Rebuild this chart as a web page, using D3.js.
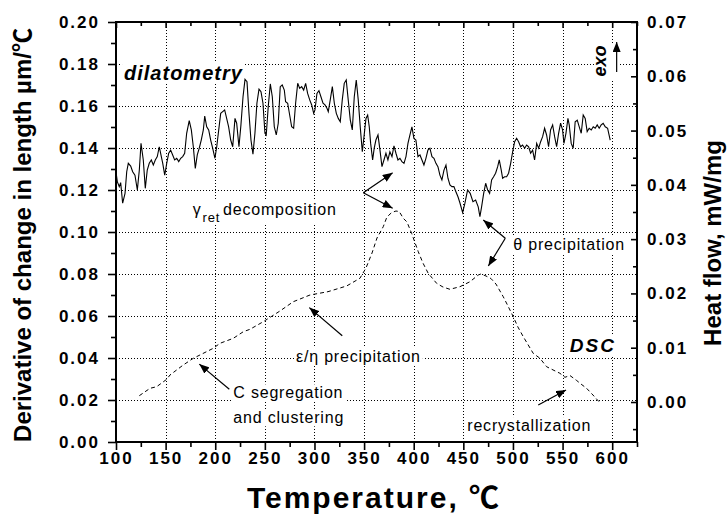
<!DOCTYPE html>
<html>
<head>
<meta charset="utf-8">
<script src="https://cdn.jsdelivr.net/npm/d3@7/dist/d3.min.js"></script>
<style>
body { margin: 0; background: #fff; }
svg { display: block; font-family: "Liberation Sans", Arial, "DejaVu Sans", sans-serif; }
</style>
</head>
<body>
<div id="chart"></div>
<script>
// dilatometry: derivative of change in length (left axis)
var dilT = [100,101.3,103.3,104.7,106.7,109.1,110.8,112.4,114.8,116.8,119.1,121.5,123.5,125.2,127.5,129.5,131.5,133.5,135.6,137.6,
  139.6,141.6,143.6,145.3,147.1,149.1,151.1,153.1,155.1,157.1,159.1,161.2,163.2,165.2,167.2,169.2,171.2,173.8,175.9,177.9,
  179.9,181.9,183.9,185.9,188,189.4,191.4,193.4,195.4,197.4,199.7,201.5,203.5,205.5,207.5,209.5,211.5,213.5,215.6,217.6,
  219.9,221.6,223.9,225.9,228,230,232,234,236,238,240,242,244.1,246.1,248.1,250.1,251.4,253.4,255.5,257.5,
  259.5,261.5,263.5,265.5,267.5,269.6,270.9,273,275,277,279,281,283.1,285.1,287.1,289.1,291.1,293.1,295.2,297.2,
  299.2,300.5,302.5,304.5,306.5,308.6,310.6,312.6,313.9,315.9,318,320,322,324,326,328,330,332,334,336.1,
  338.1,340.1,342.1,344.1,346.1,348.2,349.9,351.9,353.6,355.2,356.6,358.6,360.2,361.9,364,366,368,370,372,374,
  376,378.1,380.1,382.1,384.1,386.1,388.1,390.2,392.2,394.2,396.2,398.2,400.2,402.2,404.3,406.3,408.3,410.3,412.3,414.3,
  416.3,418.4,420.4,422.4,424.4,426.4,428.4,430.5,432.5,434.5,436.5,438.5,440.5,442.5,444.6,446.6,449.3,451.6,454.3,456.9,
  459.7,462.4,465,466.7,468.4,470.5,472.5,474.5,476.5,478.5,480.5,482.5,484.6,486.2,488.2,489.6,491.6,493.6,495.6,497.7,
  499.7,501.7,503.7,505.7,507.7,509.7,511.8,513.8,515.8,517.8,519.8,521.8,523.9,525.9,527.9,529.9,531.9,533.9,535.9,537.9,
  540,542,544,546,548,550,551.4,553.4,555.4,556.7,558.7,560.7,562.7,564.8,566.8,568.8,570.8,572.8,574.8,576.8,
  578.9,580.9,582.9,584.9,586.9,588.9,590.9,593,595.4,598];
var dilV = [0.1287,0.1240,0.1216,0.1235,0.1137,0.1184,0.1287,0.1327,0.1314,0.1287,0.1271,0.1200,0.1295,0.1422,0.1343,0.1208,0.1295,0.1327,0.1343,0.1319,
  0.1343,0.1359,0.1406,0.1367,0.1327,0.1271,0.1327,0.1375,0.1390,0.1367,0.1343,0.1351,0.1335,0.1351,0.1359,0.1375,0.1470,0.1530,0.1486,0.1406,
  0.1303,0.1367,0.1399,0.1438,0.1486,0.1552,0.1501,0.1486,0.1438,0.1399,0.1351,0.1406,0.1486,0.1565,0.1573,0.1581,0.1541,0.1501,0.1438,0.1406,
  0.1541,0.1518,0.1406,0.1510,0.1644,0.1727,0.1716,0.1565,0.1438,0.1371,0.1470,0.1613,0.1680,0.1668,0.1613,0.1470,0.1462,0.1597,0.1705,0.1644,
  0.1501,0.1462,0.1518,0.1692,0.1700,0.1676,0.1620,0.1613,0.1557,0.1501,0.1494,0.1613,0.1708,0.1684,0.1692,0.1676,0.1708,0.1660,0.1629,0.1605,
  0.1565,0.1581,0.1660,0.1673,0.1644,0.1613,0.1605,0.1589,0.1573,0.1629,0.1692,0.1613,0.1565,0.1541,0.1525,0.1629,0.1708,0.1724,0.1629,0.1533,
  0.1486,0.1644,0.1724,0.1629,0.1501,0.1382,0.1454,0.1541,0.1557,0.1501,0.1422,0.1343,0.1399,0.1438,0.1462,0.1390,0.1311,0.1343,0.1375,0.1343,
  0.1382,0.1359,0.1410,0.1375,0.1343,0.1351,0.1335,0.1327,0.1359,0.1422,0.1462,0.1501,0.1446,0.1438,0.1359,0.1367,0.1343,0.1319,0.1351,0.1390,
  0.1399,0.1359,0.1351,0.1327,0.1311,0.1271,0.1248,0.1295,0.1319,0.1256,0.1224,0.1216,0.1216,0.1192,0.1168,0.1138,0.1092,0.1137,0.1200,0.1184,
  0.1144,0.1152,0.1120,0.1073,0.1120,0.1184,0.1232,0.1200,0.1184,0.1248,0.1263,0.1280,0.1311,0.1343,0.1295,0.1256,0.1263,0.1263,0.1280,0.1327,
  0.1382,0.1430,0.1446,0.1430,0.1406,0.1414,0.1399,0.1414,0.1406,0.1375,0.1390,0.1343,0.1422,0.1399,0.1430,0.1454,0.1494,0.1462,0.1406,0.1486,
  0.1510,0.1454,0.1406,0.1470,0.1518,0.1486,0.1422,0.1470,0.1541,0.1510,0.1422,0.1399,0.1525,0.1533,0.1501,0.1470,0.1557,0.1541,0.1478,0.1494,
  0.1486,0.1501,0.1494,0.1510,0.1494,0.1510,0.1518,0.1501,0.1494,0.1438];

// DSC heat flow (right axis)
var dscT = [123.5,134.3,141,151.1,154.4,167.8,177.9,184.6,198,204.8,218.2,228.3,235,248.4,265.2,278.6,295.5,313.6,332.4,345.8,
  351.9,358,363,369.3,373,377.8,382.1,385.4,389.5,393.2,397.9,404.6,409.3,414.6,423.1,429.5,436.5,446.6,456.7,465,
  467.7,472.8,477.8,482.9,490.2,495,500.3,505,510.4,520.4,527.2,533.9,544,547.3,552.4,557.4,564.2,568.5,574.2,580.6,587.6];
var dscV = [0.00116,0.00252,0.00282,0.00418,0.00497,0.00682,0.00805,0.00866,0.00989,0.01081,0.01173,0.01295,0.01339,0.01479,0.01676,0.01847,0.01971,0.02032,0.02137,0.02279,
  0.02468,0.02745,0.03021,0.03229,0.03408,0.03490,0.03518,0.03509,0.03384,0.03316,0.03107,0.02768,0.02560,0.02371,0.02186,0.02118,0.02076,0.02124,0.02216,0.02339,
  0.02358,0.02321,0.02275,0.02173,0.01940,0.01768,0.01571,0.01381,0.01203,0.00897,0.00805,0.00650,0.00558,0.00529,0.00455,0.00488,0.00396,0.00332,0.00252,0.00129,-0.00013];

var xMajor = [100,150,200,250,300,350,400,450,500,550,600];
var xMinor = [125,175,225,275,325,375,425,475,525,575,625];
var yLeftMajor = [0,0.02,0.04,0.06,0.08,0.10,0.12,0.14,0.16,0.18,0.20];
var yLeftMinor = [0.01,0.03,0.05,0.07,0.09,0.11,0.13,0.15,0.17,0.19];
var yRightMajor = [0,0.01,0.02,0.03,0.04,0.05,0.06,0.07];
var yRightMinor = [-0.005,0.005,0.015,0.025,0.035,0.045,0.055,0.065];
var xGrid = [150,200,250,300,350,400,450,500,550,600];
var yGrid = [0.02,0.04,0.06,0.08,0.10,0.12,0.14,0.16,0.18];

var W = 728, H = 516;
var m = {top: 22, right: 91, bottom: 74, left: 116};

var svg = d3.select("#chart").append("svg").attr("width", W).attr("height", H);

var x = d3.scaleLinear().domain([100, 625]).range([m.left, W - m.right]);
var yL = d3.scaleLinear().domain([0, 0.2]).range([H - m.bottom, m.top]);
var yR = d3.scaleLinear().domain([-0.00737, 0.07]).range([H - m.bottom, m.top]);

function px(v) { return Math.round(v) + 0.5; }

// arrow head
svg.append("defs").append("marker")
  .attr("id", "head")
  .attr("viewBox", "0 0 10 8")
  .attr("refX", 10).attr("refY", 4)
  .attr("markerUnits", "userSpaceOnUse")
  .attr("markerWidth", 10).attr("markerHeight", 8)
  .attr("orient", "auto")
  .append("path").attr("d", "M0,0 L10,4 L0,8 Z").attr("fill", "#000");

// grid
var grid = svg.append("g");
grid.selectAll("line.gx").data(xGrid).join("line").attr("class", "gx")
  .attr("x1", d => px(x(d))).attr("x2", d => px(x(d)))
  .attr("y1", yL(0)).attr("y2", yL(0.2));
grid.selectAll("line.gy").data(yGrid).join("line").attr("class", "gy")
  .attr("x1", x(100)).attr("x2", x(625))
  .attr("y1", d => px(yL(d))).attr("y2", d => px(yL(d)));
grid.selectAll("line").attr("stroke", "#000").attr("stroke-width", 1).attr("stroke-dasharray", "1,2");

var boxes = svg.append("g");
var curves = svg.append("g");
var notes = svg.append("g");

// curves
var lineL = d3.line().x(d => x(d[0])).y(d => yL(d[1]));
var lineR = d3.line().x(d => x(d[0])).y(d => yR(d[1]));

curves.append("path")
  .attr("d", lineL(d3.zip(dilT, dilV)))
  .attr("fill", "none").attr("stroke", "#000").attr("stroke-width", 1.1);

curves.append("path")
  .attr("d", lineR(d3.zip(dscT, dscV)))
  .attr("fill", "none").attr("stroke", "#000").attr("stroke-width", 1)
  .attr("stroke-dasharray", "4,3");

// text labels with white boxes behind them
function label(t, v, str, size, weight, style, ls, anchor) {
  var el = notes.append("text")
    .attr("x", x(t)).attr("y", yL(v))
    .attr("font-size", size).attr("font-weight", weight || "normal")
    .attr("font-style", style || "normal")
    .attr("letter-spacing", ls || 0)
    .attr("text-anchor", anchor || "start")
    .attr("fill", "#000")
    .text(str);
  return el;
}
function backBox(el) {
  var b = el.node().getBBox();
  boxes.append("rect").attr("x", b.x - 2).attr("y", b.y).attr("width", b.width + 4).attr("height", b.height)
    .attr("fill", "#fff");
}
function arrow(t1, v1, t2, v2) {
  notes.append("line")
    .attr("x1", x(t1)).attr("y1", yL(v1)).attr("x2", x(t2)).attr("y2", yL(v2))
    .attr("stroke", "#000").attr("stroke-width", 1.2).attr("marker-end", "url(#head)");
}

backBox(label(108.1, 0.1724, "dilatometry", 20, "bold", "italic", 1));

var g1 = label(177.3, 0.1081, "", 16, "normal", "normal", 0.8);
g1.append("tspan").text("γ");
g1.append("tspan").attr("font-size", 13).attr("dy", 7).attr("dx", 1).text("ret");
g1.append("tspan").attr("dy", -7).attr("dx", 3).text("decomposition");
backBox(g1);
arrow(349.2, 0.1187, 378.8, 0.1282);
arrow(349.2, 0.1187, 378.8, 0.1113);

backBox(label(500.4, 0.0914, "θ precipitation", 16, "normal", "normal", 0.8));
arrow(492.3, 0.0970, 470.1, 0.1057);
arrow(492.3, 0.0970, 475.2, 0.0838);

backBox(label(281.4, 0.0381, "ε/η precipitation", 16, "normal", "normal", 0.8));
arrow(328.0, 0.0506, 294.8, 0.0640);

backBox(label(218.2, 0.0208, "C segregation", 16, "normal", "normal", 0.8));
backBox(label(218.2, 0.0089, "and clustering", 16, "normal", "normal", 0.8));
arrow(214.2, 0.0251, 183.9, 0.0371);

backBox(label(603.8, 0.0429, "DSC", 19, "bold", "italic", 2, "end"));

backBox(label(454.0, 0.0052, "recrystallization", 16, "normal", "normal", 0.8));
arrow(525.5, 0.0176, 553.5, 0.0248);

// exo, rotated, with arrow pointing up
notes.append("text")
  .attr("transform", "translate(" + (x(587.7) + 6) + "," + yL(0.1814) + ") rotate(-90)")
  .attr("text-anchor", "middle")
  .attr("font-size", 18).attr("font-weight", "bold").attr("font-style", "italic")
  .text("exo");
boxes.append("rect").attr("x", x(583)).attr("y", yL(0.19)).attr("width", 24).attr("height", yL(0.172) - yL(0.19)).attr("fill", "#fff");
arrow(604.5, 0.1762, 604.5, 0.1905);

// axes
var axes = svg.append("g");
var fmt2 = d3.format(".2f");

function styleAxis(g) {
  g.select(".domain").remove();
  g.selectAll("line").attr("stroke", "#000").attr("stroke-width", 1.6);
  g.selectAll("text").attr("fill", "#000").attr("font-size", 17).attr("font-weight", "bold")
    .attr("letter-spacing", 2).attr("font-family", "'Liberation Sans', Arial, sans-serif");
}

axes.append("g").attr("transform", "translate(" + m.left + ",0)")
  .call(d3.axisLeft(yL).tickValues(yLeftMajor).tickSize(8).tickPadding(8).tickFormat(fmt2)).call(styleAxis);
axes.append("g").attr("transform", "translate(" + m.left + ",0)")
  .call(d3.axisLeft(yL).tickValues(yLeftMinor).tickSize(5).tickFormat("")).call(styleAxis);

axes.append("g").attr("transform", "translate(0," + (H - m.bottom) + ")")
  .call(d3.axisBottom(x).tickValues(xMajor).tickSize(8).tickPadding(2).tickFormat(d3.format("d"))).call(styleAxis);
axes.append("g").attr("transform", "translate(0," + (H - m.bottom) + ")")
  .call(d3.axisBottom(x).tickValues(xMinor).tickSize(5).tickFormat("")).call(styleAxis);

axes.append("g").attr("transform", "translate(0," + m.top + ")")
  .call(d3.axisTop(x).tickValues(xMajor).tickSize(-6).tickFormat("")).call(styleAxis);
axes.append("g").attr("transform", "translate(0," + m.top + ")")
  .call(d3.axisTop(x).tickValues(xMinor).tickSize(-4).tickFormat("")).call(styleAxis);

axes.append("g").attr("transform", "translate(" + (W - m.right) + ",0)")
  .call(d3.axisRight(yR).tickValues(yRightMajor).tickSize(-6).tickPadding(10).tickFormat(fmt2)).call(styleAxis);
axes.append("g").attr("transform", "translate(" + (W - m.right) + ",0)")
  .call(d3.axisRight(yR).tickValues(yRightMinor).tickSize(-4).tickFormat("")).call(styleAxis);

// frame
axes.append("rect")
  .attr("x", m.left).attr("y", m.top)
  .attr("width", W - m.left - m.right).attr("height", H - m.top - m.bottom)
  .attr("fill", "none").attr("stroke", "#000").attr("stroke-width", 2);

// axis titles
var cjk = "'Noto Sans CJK SC', 'DejaVu Sans', sans-serif";

var tl = svg.append("text")
  .attr("transform", "translate(31," + 235 + ") rotate(-90)")
  .attr("text-anchor", "middle").attr("font-size", 24).attr("font-weight", "bold")
  .text("Derivative of change in length µm/");
tl.append("tspan").attr("font-family", cjk).text("℃");

svg.append("text")
  .attr("transform", "translate(721," + 243 + ") rotate(-90)")
  .attr("text-anchor", "middle").attr("font-size", 24).attr("font-weight", "bold")
  .text("Heat flow, mW/mg");

var tb = svg.append("text")
  .attr("x", 373).attr("y", 508)
  .attr("text-anchor", "middle").attr("font-size", 30).attr("font-weight", "bold")
  .attr("letter-spacing", 2)
  .text("Temperature, ");
tb.append("tspan").attr("font-family", cjk).attr("letter-spacing", 0).text("℃");
</script>
</body>
</html>
